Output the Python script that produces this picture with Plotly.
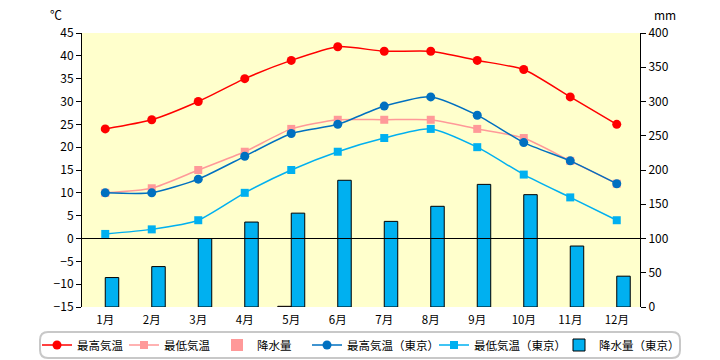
import plotly.graph_objects as go

months = ["1月", "2月", "3月", "4月", "5月", "6月", "7月", "8月", "9月", "10月", "11月", "12月"]
tmax = [24, 26, 30, 35, 39, 42, 41, 41, 39, 37, 31, 25]
tmin = [10, 11, 15, 19, 24, 26, 26, 26, 24, 22, 17, 12]
precip = [0, 0, 0, 0, 1, 0, 0, 0, 0, 0, 0, 0]
tokyo_max = [10, 10, 13, 18, 23, 25, 29, 31, 27, 21, 17, 12]
tokyo_min = [1, 2, 4, 10, 15, 19, 22, 24, 20, 14, 9, 4]
tokyo_precip = [43, 59, 100, 124, 137, 185, 125, 147, 179, 164, 89, 45]

FONT = "Noto Sans CJK JP"

fig = go.Figure()
fig.add_trace(go.Scatter(x=months, y=tmax, name="最高気温", mode="lines+markers", legendwidth=42,
                         line=dict(color="#FF0000", width=1.5, shape="spline", smoothing=0.6),
                         marker=dict(symbol="circle", size=9, color="#FF0000"), yaxis="y"))
fig.add_trace(go.Scatter(x=months, y=tmin, name="最低気温", mode="lines+markers", legendwidth=48,
                         line=dict(color="#FF9999", width=1.5, shape="spline", smoothing=0.6),
                         marker=dict(symbol="square", size=8, color="#FF9999"), yaxis="y"))
fig.add_trace(go.Bar(x=months, y=precip, name="降水量", legendwidth=45,
                     marker=dict(color="#FF9999",
                                 line=dict(color="black", width=[1 if v > 0 else 0 for v in precip])),
                     yaxis="y2"))
fig.add_trace(go.Scatter(x=months, y=tokyo_max, name="最高気温（東京）", mode="lines+markers", legendwidth=82,
                         line=dict(color="#0070C0", width=1.5, shape="spline", smoothing=0.6),
                         marker=dict(symbol="circle", size=9, color="#0070C0"), yaxis="y"))
fig.add_trace(go.Scatter(x=months, y=tokyo_min, name="最低気温（東京）", mode="lines+markers", legendwidth=80,
                         line=dict(color="#00B0F0", width=1.5, shape="spline", smoothing=0.6),
                         marker=dict(symbol="square", size=8, color="#00B0F0"), yaxis="y"))
fig.add_trace(go.Bar(x=months, y=tokyo_precip, name="降水量（東京）", legendwidth=70,
                     marker=dict(color="#00B0F0", line=dict(color="black", width=1)), yaxis="y2"))

L, R, T, B = 82, 640, 33, 307
W, H = R - L, B - T
def px(x):
    return (x - L) / W
def py(y):
    return (B - y) / H
x0, x1, y0, y1 = px(40), px(680), py(332), py(358)
rx, ry = 8 / W, 8 / H
path = (f"M{x0+rx},{y0} L{x1-rx},{y0} Q{x1},{y0} {x1},{y0-ry} L{x1},{y1+ry} Q{x1},{y1} {x1-rx},{y1} "
        f"L{x0+rx},{y1} Q{x0},{y1} {x0},{y1+ry} L{x0},{y0-ry} Q{x0},{y0} {x0+rx},{y0} Z")

fig.update_layout(
    width=720, height=360,
    margin=dict(l=L, r=720 - R, t=T, b=360 - B, autoexpand=False),
    paper_bgcolor="white", plot_bgcolor="#FFFFCC",
    font=dict(family=FONT, size=12, color="black"),
    barmode="group", bargap=0.42, bargroupgap=0,
    showlegend=True,
    legend=dict(orientation="h", x=px(37), xanchor="left", y=py(345), yanchor="middle",
                font=dict(size=11.5, family=FONT), bgcolor="rgba(0,0,0,0)", borderwidth=0,
                traceorder="normal", itemwidth=30, tracegroupgap=0),
    xaxis=dict(range=[-0.5, len(months) - 0.5], showline=False, ticks="", showgrid=False,
               tickfont=dict(size=11.5), ticklabelstandoff=4),
    yaxis=dict(range=[-15, 45], dtick=5, showgrid=False, zeroline=False, showline=True,
               linecolor="black", linewidth=1, ticks="outside", ticklen=5, tickcolor="black"),
    yaxis2=dict(range=[0, 400], dtick=50, overlaying="y", side="right", showgrid=False, zeroline=False,
                showline=True, linecolor="black", linewidth=1, ticks="outside", ticklen=5, tickcolor="black"),
    shapes=[
        dict(type="line", xref="paper", yref="y", x0=0, x1=1, y0=0, y1=0,
             line=dict(color="black", width=1), layer="above"),
        dict(type="path", xref="paper", yref="paper", path=path,
             line=dict(color="#C8C8C8", width=2), fillcolor="rgba(0,0,0,0)", layer="below"),
    ],
    annotations=[
        dict(text="℃", xref="paper", yref="paper", x=px(56), y=py(15), xanchor="center", yanchor="middle",
             showarrow=False, font=dict(size=12)),
        dict(text="mm", xref="paper", yref="paper", x=px(665), y=py(15), xanchor="center", yanchor="middle",
             showarrow=False, font=dict(size=12)),
    ],
)

fig.write_html("out.html", config={"displayModeBar": False},
               post_script="document.body.style.margin='0';")
